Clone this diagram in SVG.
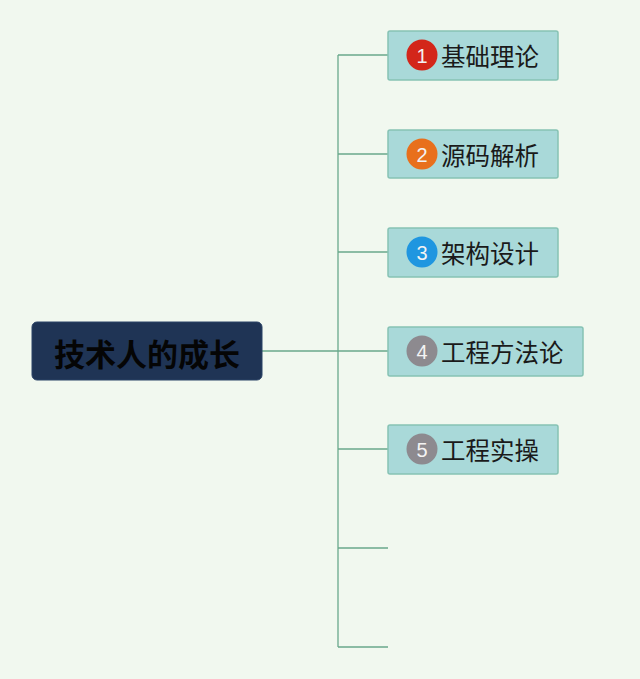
<svg xmlns="http://www.w3.org/2000/svg" width="640" height="679" viewBox="0 0 640 679">
<style>
.bg{fill:#f1f8ef}
.conn{stroke:#6aa88c;stroke-width:1.3;fill:none}
.box{fill:#a9d9d9;stroke:#86c2b4;stroke-width:1.5}
.lbl{font-family:"Noto Sans CJK SC","Noto Sans",sans-serif;font-size:24.5px;fill:#1a1a1a;dominant-baseline:central}
.num{font-family:"Liberation Sans","Noto Sans",sans-serif;font-size:20px;fill:#f3f3f3;text-anchor:middle;dominant-baseline:central}
.root{fill:#1f3455;stroke:#2a4266;stroke-width:1}
.rootlbl{font-family:"Noto Sans CJK SC",sans-serif;font-size:31px;font-weight:bold;fill:#050505;text-anchor:middle;dominant-baseline:central}
</style>
<rect class="bg" x="0" y="0" width="640" height="679"/>
<g id="connectors">
<path class="conn" d="M262 351 H338 M338 55 V647 M338 55 H388 M338 154 H388 M338 252 H388 M338 351 H388 M338 449 H388 M338 548 H388 M338 647 H388"/>
</g>
<g id="root">
<rect class="root" x="32" y="322" width="230" height="58" rx="5"/>
<text class="rootlbl" x="147" y="352">技术人的成长</text>
</g>
<g id="n1">
<rect class="box" x="388" y="31" width="170" height="49" rx="2"/>
<circle cx="422" cy="55" r="15.5" fill="#d3261a"/>
<text class="num" x="422" y="56">1</text>
<text class="lbl" x="441" y="55">基础理论</text>
</g>
<g id="n2">
<rect class="box" x="388" y="130" width="170" height="48" rx="2"/>
<circle cx="422" cy="154" r="15.5" fill="#e8701c"/>
<text class="num" x="422" y="155">2</text>
<text class="lbl" x="441" y="154">源码解析</text>
</g>
<g id="n3">
<rect class="box" x="388" y="228" width="170" height="49" rx="2"/>
<circle cx="422" cy="252" r="15.5" fill="#1f96e0"/>
<text class="num" x="422" y="253">3</text>
<text class="lbl" x="441" y="252">架构设计</text>
</g>
<g id="n4">
<rect class="box" x="388" y="327" width="195" height="49" rx="2"/>
<circle cx="422" cy="351" r="15.5" fill="#8d8a8f"/>
<text class="num" x="422" y="352">4</text>
<text class="lbl" x="441" y="351">工程方法论</text>
</g>
<g id="n5">
<rect class="box" x="388" y="425" width="170" height="49" rx="2"/>
<circle cx="422" cy="449" r="15.5" fill="#8d8a8f"/>
<text class="num" x="422" y="450">5</text>
<text class="lbl" x="441" y="449">工程实操</text>
</g>
</svg>
